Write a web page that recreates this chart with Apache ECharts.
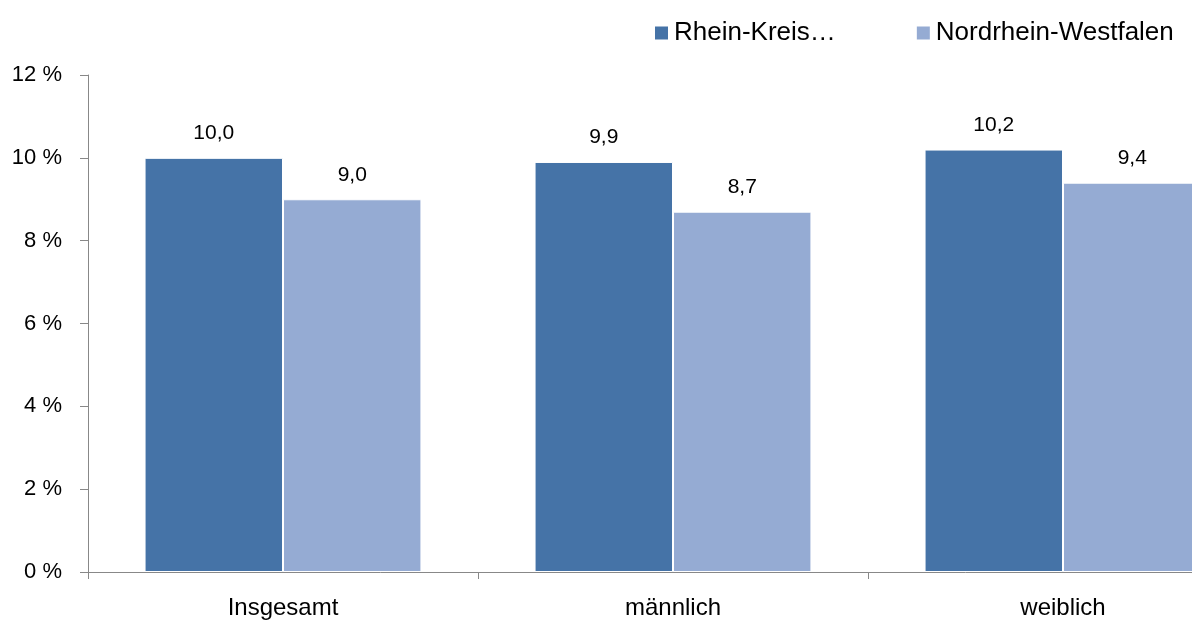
<!DOCTYPE html>
<html><head><meta charset="utf-8">
<script src="https://cdn.jsdelivr.net/npm/echarts@6/dist/echarts.min.js"></script>
<style>html,body{margin:0;padding:0;background:#fff;overflow:hidden;width:1192px;height:621px}#c{width:1258px;height:621px}</style>
</head><body><div id="c"></div>
<script>
var categories = ['Insgesamt', 'männlich', 'weiblich'];
var seriesNames = ['Rhein-Kreis…', 'Nordrhein-Westfalen'];
var rheinKreis = [10.0, 9.9, 10.2];
var nrw = [9.0, 8.7, 9.4];
var yTicks = [0, 2, 4, 6, 8, 10, 12];

var FONT = 'Liberation Sans';
var chart = echarts.init(document.getElementById('c'));
function lbl(p){ return p.value.toFixed(1).replace('.', ','); }
chart.setOption({
  animation: false,
  textStyle: {fontFamily: FONT},
  legend: {
    left: 648, top: 15, itemWidth: 15, itemHeight: 15, itemGap: 79,
    icon: 'rect',
    textStyle: {fontSize: 26, color: '#000', fontFamily: FONT},
    data: seriesNames
  },
  grid: {left: 88, right: 0, top: 75, bottom: 49, containLabel: false},
  xAxis: {
    type: 'category', data: categories,
    axisLine: {lineStyle: {color: '#888', width: 1}},
    axisTick: {show: true, length: 7, lineStyle: {color: '#888'}},
    axisLabel: {fontSize: 24, color: '#000', margin: 24, fontFamily: FONT}
  },
  yAxis: {
    type: 'value', min: yTicks[0], max: yTicks[yTicks.length-1], interval: 2,
    axisLine: {show: true, lineStyle: {color: '#888', width: 1}},
    axisTick: {show: true, length: 8, lineStyle: {color: '#888'}},
    splitLine: {show: false},
    axisLabel: {fontSize: 22, color: '#000', margin: 26, fontFamily: FONT, formatter: function(v){return v + ' %';}}
  },
  series: [
    {name: seriesNames[0], type: 'bar', data: rheinKreis, barGap: '0%', barCategoryGap: '29%',
     itemStyle: {color: '#4573a7', borderColor: '#fff', borderWidth: 1},
     label: {show: true, position: 'top', distance: 14, fontSize: 21, color: '#000', fontFamily: FONT, formatter: lbl}},
    {name: seriesNames[1], type: 'bar', data: nrw, barGap: '0%', barCategoryGap: '29%',
     itemStyle: {color: '#95abd3', borderColor: '#fff', borderWidth: 1},
     label: {show: true, position: 'top', distance: 14, fontSize: 21, color: '#000', fontFamily: FONT, formatter: lbl}}
  ]
});
</script></body></html>
